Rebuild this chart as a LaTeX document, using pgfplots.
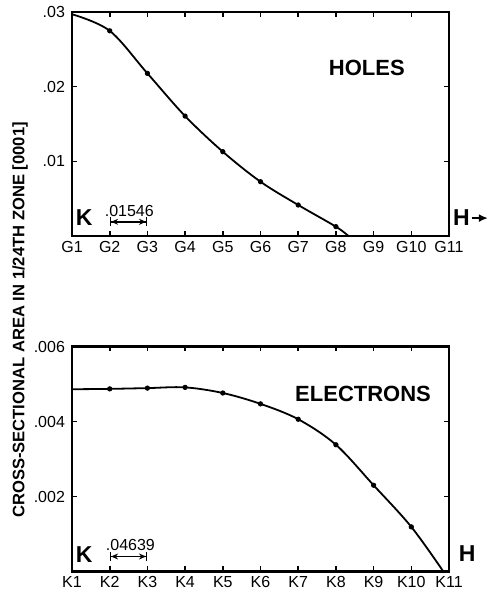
\documentclass[border=0pt]{standalone}
\usepackage{fontspec}
\setmainfont{Liberation Sans}
\usepackage{pgfplots}
\pgfplotsset{compat=1.18}
\usetikzlibrary{arrows.meta}

\begin{document}
\begin{tikzpicture}[
  dim/.style={line width=0.7pt, {Bar[width=4.5pt]Stealth[length=3.5pt,width=3pt]}-{Stealth[length=3.5pt,width=3pt]Bar[width=4.5pt]}}
]
\useasboundingbox (0,0) rectangle (245pt,296pt);
\pgfplotsset{
  panel/.style={
    scale only axis, anchor=south west,
    width=188.5pt,
    xmin=1, xmax=11, ymin=0,
    xtick={1,...,11},
    scaled y ticks=false,
    tick align=inside, major tick length=2.5pt,
    axis line style={line width=1.1pt},
    tick style={line width=0.8pt, black},
    tick label style={font=\fontsize{8}{9}\selectfont},
    xticklabel style={yshift=1pt},
    /pgf/number format/assume math mode=true,
    clip=false
  },
  curve/.style={black, line width=0.9pt, smooth, tension=0.55, no marks},
  dots/.style={only marks, mark=*, mark size=1.1pt, black}
}

% holes
\begin{axis}[panel, at={(36pt,178pt)}, height=112pt,
  ymax=0.03, ytick={0.01,0.02,0.03}, yticklabels={.01,.02,.03},
  xticklabels={G1,G2,G3,G4,G5,G6,G7,G8,G9,G10,G11}]
\addplot[curve] coordinates {(1,0.0297) (2,0.02748) (3,0.02178) (4,0.01606) (5,0.01129) (6,0.00727) (7,0.00415) (8,0.00125) (8.33,0)};
\addplot[dots] coordinates {(2,0.02748) (3,0.02178) (4,0.01606) (5,0.01129) (6,0.00727) (7,0.00415) (8,0.00125)};
\node[font=\fontsize{11}{12}\selectfont\bfseries] at (axis cs:8.82,0.0225) {HOLES};
\node[font=\fontsize{11.5}{12}\selectfont\bfseries] at (axis cs:1.32,0.0024) {K};
\node[font=\fontsize{8}{9}\selectfont] at (axis cs:2.52,0.0033) {.01546};
\draw[dim] (axis cs:2,0.0019) -- (axis cs:3,0.0019);
\node[font=\fontsize{11.5}{12}\selectfont\bfseries, anchor=west, inner sep=0pt] at (axis cs:11.1,0.0024) {H};
\draw[line width=0.8pt, -{Latex[length=4.5pt,width=4pt]}] (axis cs:11.6,0.0024) -- (axis cs:12.03,0.0024);
\end{axis}

% electrons
\begin{axis}[panel, at={(36pt,10.25pt)}, height=112.5pt,
  ymax=0.006, ytick={0.002,0.004,0.006}, yticklabels={.002,.004,.006},
  xticklabels={K1,K2,K3,K4,K5,K6,K7,K8,K9,K10,K11}]
\addplot[curve] coordinates {(1,0.00486) (2,0.00487) (3,0.00489) (4,0.00491) (5,0.00476) (6,0.00447) (7,0.00406) (8,0.00338) (9,0.00230) (10,0.00119) (10.85,0)};
\addplot[dots] coordinates {(2,0.00487) (3,0.00489) (4,0.00491) (5,0.00476) (6,0.00447) (7,0.00406) (8,0.00338) (9,0.00230) (10,0.00119)};
\node[font=\fontsize{11}{12}\selectfont\bfseries] at (axis cs:8.72,0.00474) {ELECTRONS};
\node[font=\fontsize{11.5}{12}\selectfont\bfseries] at (axis cs:1.32,0.00044) {K};
\node[font=\fontsize{8}{9}\selectfont] at (axis cs:2.55,0.00072) {.04639};
\draw[dim] (axis cs:2,0.0004) -- (axis cs:3,0.0004);
\node[font=\fontsize{11.5}{12}\selectfont\bfseries, anchor=west, inner sep=0pt] at (axis cs:11.25,0.00048) {H};
\end{axis}

\node[rotate=90, font=\fontsize{8.3}{9}\selectfont\bfseries] at (10pt,136pt) {CROSS-SECTIONAL AREA IN 1/24TH ZONE [0001]};
\end{tikzpicture}
\end{document}
